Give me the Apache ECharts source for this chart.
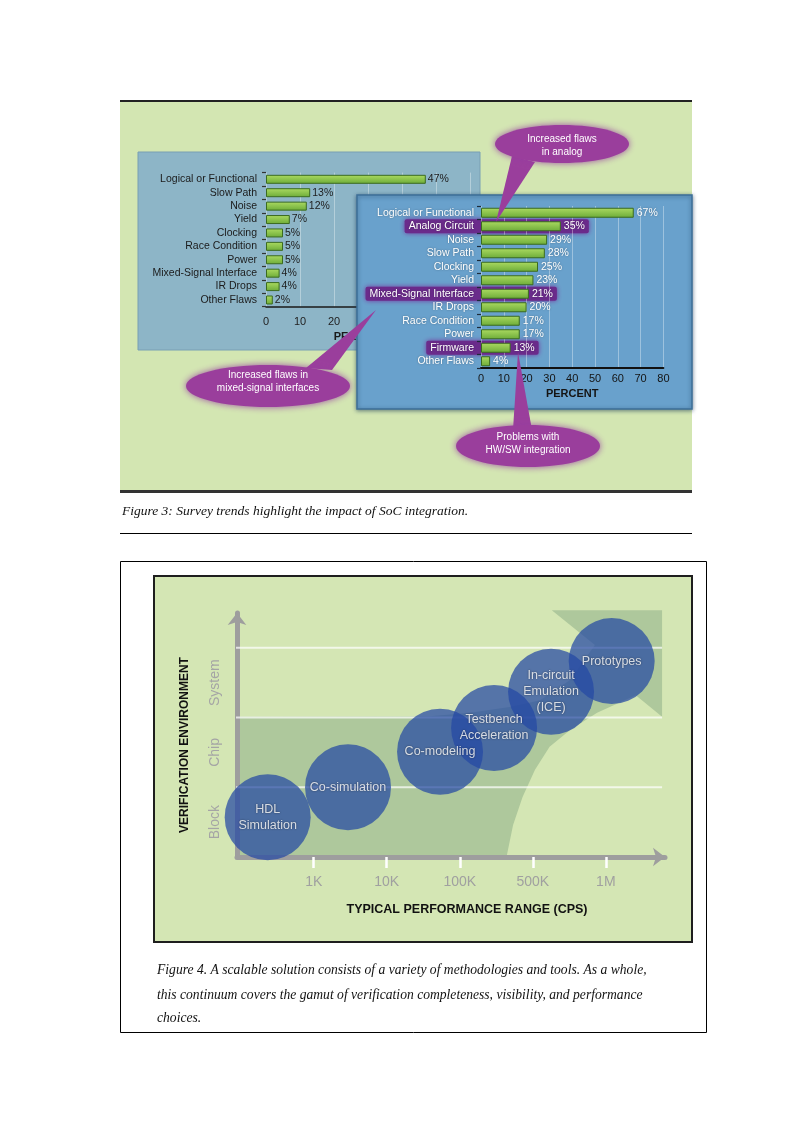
<!DOCTYPE html>
<html><head><meta charset="utf-8">
<script src="https://cdn.jsdelivr.net/npm/echarts@6/dist/echarts.min.js"></script>
<style>html,body{margin:0;padding:0;background:#fff;}#c{width:800px;height:1132px;}</style>
</head><body><div id="c"></div>
<script>
// ---------- Figure 3 data ----------
const oldCategories = ['Logical or Functional','Slow Path','Noise','Yield','Clocking','Race Condition','Power','Mixed-Signal Interface','IR Drops','Other Flaws'];
const oldValues = [47,13,12,7,5,5,5,4,4,2];
const newCategories = ['Logical or Functional','Analog Circuit','Noise','Slow Path','Clocking','Yield','Mixed-Signal Interface','IR Drops','Race Condition','Power','Firmware','Other Flaws'];
const newValues = [67,35,29,28,25,23,21,20,17,17,13,4];
const highlightedCategories = ['Analog Circuit','Mixed-Signal Interface','Firmware'];
const calloutTexts = ['Increased flaws\nin analog','Increased flaws in\nmixed-signal interfaces','Problems with\nHW/SW integration'];
const caption3 = 'Figure 3: Survey trends highlight the impact of SoC integration.';

// ---------- Figure 4 data ----------
const methodNames = ['HDL\nSimulation','Co-simulation','Co-modeling','Testbench\nAcceleration','In-circuit\nEmulation\n(ICE)','Prototypes'];
const methodPerf = [0.37,1.47,2.73,3.47,4.25,5.08];   // position on ordinal performance scale (1 = 1K ... 5 = 1M)
const methodEnv  = [0.57,1.00,1.51,1.85,2.37,2.81];   // 0-1 Block, 1-2 Chip, 2-3 System
const perfTicks = [1,2,3,4,5];
const perfTickLabels = ['1K','10K','100K','500K','1M'];
const envLabelPos = [0.5,1.5,2.5];
const envLabels = ['Block','Chip','System'];
const envBoundaries = [1,2,3];
const boundarySpan = [-0.22,5.77];
const coverageRegion = [[-0.05,0],[-0.05,2.01],[2.59,2.02],[3.14,2.07],[3.68,2.15],[4.10,2.25],[4.51,2.54],[4.85,3.04],[4.26,3.54],[5.77,3.54],[5.77,2.01],[5.41,2.32],[4.88,2.07],[4.51,1.82],[4.23,1.58],[4.03,1.25],[3.86,0.86],[3.73,0.46],[3.64,0]];
const caption4 = ['Figure 4. A scalable solution consists of a variety of methodologies and tools. As a whole,','this continuum covers the gamut of verification completeness, visibility, and performance','choices.'];

const FF = '"Liberation Sans", Arial, sans-serif';
const SERIF = '"Liberation Serif", "Times New Roman", serif';
const mctx = document.createElement('canvas').getContext('2d');
function textW(s, size){ mctx.font = size + 'px ' + FF; return mctx.measureText(s).width; }

const chart = echarts.init(document.getElementById('c'), null, {renderer:'canvas'});
const barGrad = () => new echarts.graphic.LinearGradient(0,0,0,1,[{offset:0,color:'#acdb62'},{offset:1,color:'#6cab38'}]);
const PURPLE = '#9a3e9c';

function callout(cx, cy, rx, ry, tail, text, ty){
  return [
    {type:'polygon', z:10, shape:{points:tail}, style:{fill:PURPLE}},
    {type:'ellipse', z:10, shape:{cx:cx, cy:cy, rx:rx, ry:ry}, style:{fill:PURPLE, shadowBlur:7, shadowColor:'rgba(150,60,160,0.9)'}},
    {type:'text', z:11, style:{text:text, x:cx, y:ty, fill:'#ffffff', font:'10px '+FF, lineHeight:13, align:'center', verticalAlign:'middle', textAlign:'center', textVerticalAlign:'middle'}}
  ];
}

const graphics = [
  {type:'rect', z:0, shape:{x:120, y:102, width:572, height:389}, style:{fill:'#d3e6b2'}},
  {type:'line', z:0, shape:{x1:120, y1:101, x2:692, y2:101}, style:{stroke:'#222', lineWidth:2}},
  {type:'line', z:0, shape:{x1:120, y1:491.5, x2:692, y2:491.5}, style:{stroke:'#333', lineWidth:3}},
  {type:'text', z:0, style:{text:caption3, x:122, y:511, fill:'#111', font:'italic 13.5px '+SERIF, align:'left', verticalAlign:'middle', textAlign:'left', textVerticalAlign:'middle'}},
  {type:'line', z:0, shape:{x1:120, y1:533.5, x2:692, y2:533.5}, style:{stroke:'#000', lineWidth:1}},
  {type:'rect', z:1, shape:{x:138, y:152, width:342, height:198}, style:{fill:'#8db5c7', stroke:'#789fb3', lineWidth:1}},
  {type:'rect', z:5, shape:{x:357, y:195, width:335, height:214}, style:{fill:'#69a1cc', stroke:'#3d6f98', lineWidth:1.5, shadowBlur:4, shadowColor:'rgba(30,60,90,0.6)', shadowOffsetY:1}},
  ...callout(562, 144, 67, 19, [[512,156],[535,162],[496,222]], calloutTexts[0], 145.5),
  ...callout(268, 386, 82, 21, [[306,368],[332,370],[376,310]], calloutTexts[1], 382),
  ...callout(528, 446, 72, 21, [[513,430],[532,430],[518,352]], calloutTexts[2], 443.5),
  {type:'rect', z:0, shape:{x:120.5, y:561.5, width:586, height:471}, style:{fill:'none', stroke:'#000', lineWidth:1}},
  {type:'rect', z:1, shape:{x:154, y:576, width:538, height:366}, style:{fill:'#d4e6b4', stroke:'#1e1e1e', lineWidth:2}},
  ...caption4.map((t,i)=>({type:'text', z:1, style:{text:t, x:157, y:[970,995,1018][i], fill:'#111', font:'italic 13.6px '+SERIF, align:'left', verticalAlign:'middle', textAlign:'left', textVerticalAlign:'middle'}}))
];

const highlightData = highlightedCategories.map(n => { const i = newCategories.indexOf(n); return [newValues[i], i]; });

const boundarySeries = envBoundaries.map(w => ({
  type:'line', xAxisIndex:2, yAxisIndex:2, z:3, clip:false, silent:true, showSymbol:false, symbol:'none',
  data:boundarySpan.map(x => [x, w]),
  lineStyle:{color:'rgba(255,255,255,0.7)', width:2}
}));

const option = {
  animation:false,
  backgroundColor:'#ffffff',
  textStyle:{fontFamily:FF},
  graphic:{elements:graphics},
  grid:[
    {left:266, top:172.6, width:204, height:134.1},
    {left:481, top:206, width:182.4, height:162},
    {left:237, top:613, width:428, height:244}
  ],
  xAxis:[
    {gridIndex:0, type:'value', min:0, max:60, interval:10, z:3,
     axisLine:{show:true, onZero:false, lineStyle:{color:'#1a1a1a', width:1.5}}, axisTick:{show:false},
     splitLine:{show:true, lineStyle:{color:'rgba(255,255,255,0.35)', width:1}},
     axisLabel:{color:'#222', fontSize:11, margin:10},
     name:'PERCENT', nameLocation:'middle', nameGap:25, nameTextStyle:{color:'#1a1a1a', fontWeight:'bold', fontSize:11, padding:[0,16,0,0]}},
    {gridIndex:1, type:'value', min:0, max:80, interval:10, z:7,
     axisLine:{show:true, onZero:false, lineStyle:{color:'#111', width:2}}, axisTick:{show:false},
     splitLine:{show:true, lineStyle:{color:'rgba(255,255,255,0.35)', width:1}},
     axisLabel:{color:'#141414', fontSize:11, margin:5.5},
     name:'PERCENT', nameLocation:'middle', nameGap:20, nameTextStyle:{color:'#141414', fontWeight:'bold', fontSize:11}},
    {gridIndex:2, type:'value', min:-0.05, max:5.81, z:3,
     axisLine:{show:true, onZero:false, symbol:['none','arrow'], symbolSize:[14,12], lineStyle:{color:'#9e9e9e', width:5}},
     axisTick:{show:true, customValues:perfTicks, length:11, lineStyle:{color:'#ffffff', width:2.5}},
     axisLabel:{customValues:perfTicks, formatter:v=>perfTickLabels[Math.round(v)-1], color:'#a0a0a0', fontSize:14, margin:18},
     splitLine:{show:false},
     name:'TYPICAL PERFORMANCE RANGE (CPS)', nameLocation:'middle', nameGap:46,
     nameTextStyle:{color:'#111', fontWeight:'bold', fontSize:12.5, padding:[0,0,0,32]}}
  ],
  yAxis:[
    {gridIndex:0, type:'category', data:oldCategories, inverse:true, z:3,
     axisLine:{show:false}, axisTick:{show:true, length:4, lineStyle:{color:'#333', width:1.2}},
     axisLabel:{interval:0, color:'#1b1b1b', fontSize:10.5, margin:9}},
    {gridIndex:1, type:'category', data:newCategories, inverse:true, z:7,
     axisLine:{show:false}, axisTick:{show:true, length:4, lineStyle:{color:'#1d2b3a', width:1.2}},
     axisLabel:{interval:0, color:'#ffffff', fontSize:10.5, margin:7, textShadowColor:'rgba(0,0,0,0.35)', textShadowBlur:2}},
    {gridIndex:2, type:'value', min:0, max:3.5, z:3,
     axisLine:{show:true, onZero:false, symbol:['none','arrow'], symbolSize:[14,12], lineStyle:{color:'#9e9e9e', width:5}},
     axisTick:{show:false}, splitLine:{show:false},
     axisLabel:{customValues:envLabelPos, formatter:v=>envLabels[Math.floor(v)], rotate:90, color:'#a5a5a5', fontSize:14, margin:15},
     name:'VERIFICATION ENVIRONMENT', nameLocation:'middle', nameGap:46,
     nameTextStyle:{color:'#111', fontWeight:'bold', fontSize:12, padding:[0,20,0,0]}}
  ],
  series:[
    {type:'bar', xAxisIndex:0, yAxisIndex:0, data:oldValues, barWidth:9, z:4,
     itemStyle:{color:barGrad(), borderColor:'#3b6b1f', borderWidth:1},
     label:{show:true, position:'right', distance:2, formatter:'{c}%', color:'#1d1d1d', fontSize:10.5}},
    {type:'custom', xAxisIndex:1, yAxisIndex:1, data:highlightData, z:6, silent:true, clip:false,
     renderItem:function(params, api){
       const idx = api.value(1), val = api.value(0);
       const p0 = api.coord([0, idx]), p1 = api.coord([val, idx]);
       const lw = textW(newCategories[idx], 10.5), vw = textW(val + '%', 10.5);
       const x0 = p0[0] - 7 - lw - 4, x1 = p1[0] + 3 + vw + 4;
       return {type:'rect', shape:{x:x0, y:p0[1]-7, width:x1-x0, height:14, r:2},
               style:{fill:'#6a2b8b', shadowBlur:5, shadowColor:'rgba(120,40,150,0.9)'}};
     }},
    {type:'bar', xAxisIndex:1, yAxisIndex:1, data:newValues, barWidth:10, z:8,
     itemStyle:{color:barGrad(), borderColor:'#3b6b1f', borderWidth:1},
     label:{show:true, position:'right', distance:3, formatter:'{c}%', color:'#ffffff', fontSize:10.5, textShadowColor:'rgba(0,0,0,0.35)', textShadowBlur:2}},
    {type:'custom', xAxisIndex:2, yAxisIndex:2, data:coverageRegion, z:2, silent:true, clip:false,
     renderItem:function(params, api){
       if (params.dataIndex !== 0) return null;
       return {type:'polygon', shape:{points:coverageRegion.map(p=>api.coord(p))}, style:{fill:'#aec89c'}};
     }},
    ...boundarySeries,
    {type:'scatter', xAxisIndex:2, yAxisIndex:2, z:4, symbolSize:86,
     data:methodNames.map((n,i)=>({name:n, value:[methodPerf[i], methodEnv[i]]})),
     itemStyle:{color:'rgba(36,72,164,0.9)'},
     label:{show:true, position:'inside', formatter:'{b}', color:'#ffffff', fontSize:12.5, lineHeight:16,
            textShadowColor:'rgba(0,0,0,0.65)', textShadowBlur:2}}
  ]
};
chart.setOption(option);
</script></body></html>
